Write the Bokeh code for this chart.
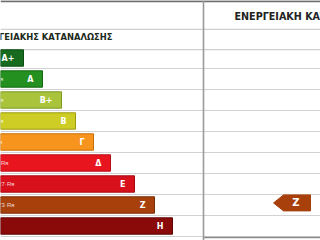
from bokeh.plotting import figure
from bokeh.models import Range1d
from bokeh.core.properties import value
from bokeh.embed import file_html
from bokeh.resources import INLINE

# Energy classes, bar lengths (scale units) and bar colours
classes = ["A+", "A", "B+", "B", "Γ", "Δ", "E", "Z", "H"]
bar_length = [23, 42, 61, 75, 93, 110, 134, 154, 172]
bar_colors = ["#176b1f", "#23901f", "#a9c43b", "#cdcd25", "#f7941d",
              "#e8141e", "#d7101c", "#a8400c", "#8a0a0a"]
edge_colors = ["#0d4d12", "#146a12", "#7e9a22", "#9c9c10", "#c86e08",
               "#b80f16", "#a60a12", "#7a2c06", "#5e0505"]
range_labels = ["R≤0,33·Rʀ", "0,33·Rʀ<R≤0,50·Rʀ", "0,50·Rʀ<R≤0,75·Rʀ",
                "0,75·Rʀ<R≤1,00·Rʀ", "1,00·Rʀ<R≤1,41·Rʀ", "1,41·Rʀ<R≤1,82·Rʀ",
                "1,82·Rʀ<R≤2,27·Rʀ", "2,27·Rʀ<R≤2,73·Rʀ", "2,73·Rʀ<R"]

# Rating of the building
building_class = "Z"

left_heading = "ΚΑΤΗΓΟΡΙΑ ΕΝΕΡΓΕΙΑΚΗΣ ΚΑΤΑΝΑΛΩΣΗΣ"
right_heading = "ΕΝΕΡΓΕΙΑΚΗ ΚΑΤΗΓΟΡΙΑ"

W, H = 320, 240
row_px = 21.0
first_center_px = 57.5

p = figure(width=W, height=H, output_backend="svg", toolbar_location=None,
           x_range=Range1d(0, W),
           y_range=Range1d((H - first_center_px) / row_px, -first_center_px / row_px),
           min_border=0, outline_line_color=None)
p.axis.visible = False
p.grid.visible = False
p.background_fill_color = "white"
p.border_fill_color = "white"

rows = list(range(len(classes)))
n = len(classes)

# table rules
rule_y = [r + 0.5 for r in rows]
p.segment(x0=[0] * n, x1=[W] * n, y0=rule_y, y1=rule_y,
          line_color="#d2d2d2", line_width=1.2)
hdr_rules = [-0.4, -1.36]
p.segment(x0=[0, 0], x1=[W, W], y0=hdr_rules, y1=hdr_rules,
          line_color="#cfcfcf", line_width=1.2)
top = -first_center_px / row_px
p.segment(x0=[0], x1=[W], y0=[top + 0.03], y1=[top + 0.03],
          line_color="#6e6e6e", line_width=2)
bottom = n - 0.5
p.segment(x0=[203], x1=[W], y0=[bottom + 0.05], y1=[bottom + 0.05],
          line_color="#8c8c8c", line_width=1.5)
p.segment(x0=[203], x1=[203], y0=[top], y1=[(H - first_center_px) / row_px],
          line_color="#9a9a9a", line_width=1.6)

# class bars
p.hbar(y=rows, left=0, right=bar_length, height=0.78,
       fill_color=bar_colors, line_color=edge_colors, line_width=1)

# class letters
p.text(x=[b - 9 for b in bar_length], y=rows, text=classes,
       text_align="right", text_baseline="middle", text_color="white",
       text_font=value("DejaVu Sans"), text_font_style="bold",
       text_font_size="8px")

# threshold ranges (mostly cut off at the left edge)
range_end = [-4, 3, 3, 3, 2, 8, 14, 14, -4]
p.text(x=range_end, y=rows, text=range_labels,
       text_align="right", text_baseline="middle", text_color="#ffffff",
       text_alpha=0.8, text_font=value("Liberation Sans"),
       text_font_size="6px")

# headings
p.text(x=[112], y=[-1.02], text=[left_heading], text_align="right",
       text_baseline="middle", text_color="#1c2a1c",
       text_font=value("DejaVu Sans"), text_font_style="bold",
       text_font_size="8.4px")
p.text(x=[234], y=[top + 15.5 / row_px], text=[right_heading], text_align="left",
       text_baseline="middle", text_color="#222222",
       text_font=value("DejaVu Sans"), text_font_style="bold",
       text_font_size="9.6px")

# building rating arrow
bi = classes.index(building_class)
r = bi - 0.1
half = 0.38
tip, neck, tail = 273, 283, 310
p.patch(x=[tip, neck, tail, tail, neck], y=[r, r - half, r - half, r + half, r + half],
        fill_color=bar_colors[bi], line_color=bar_colors[bi])
p.text(x=[(neck + tail) / 2 - 1], y=[r], text=[building_class],
       text_align="center", text_baseline="middle", text_color="white",
       text_font=value("DejaVu Sans"), text_font_style="bold",
       text_font_size="10px")

open("out.html", "w").write(file_html(p, INLINE))
